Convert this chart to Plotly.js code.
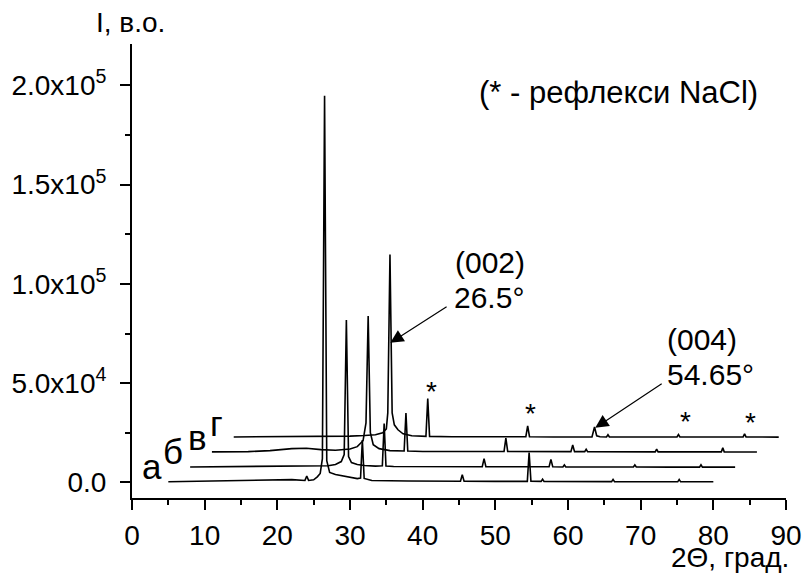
<!DOCTYPE html>
<html>
<head>
<meta charset="utf-8">
<script src="https://cdn.plot.ly/plotly-3.0.1.min.js"></script>
<style>html,body{margin:0;padding:0;background:#fff;}</style>
</head>
<body>
<div id="chart" style="width:806px;height:576px;"></div>
<script>
// Curve а
const xA = [5, 10, 15, 20, 22, 23.8, 24.05, 24.3, 25.0, 25.5, 25.9, 26.2, 26.5, 26.8, 27.2, 28, 29, 30, 31, 31.45, 31.7, 31.95, 33, 38, 45.2, 45.45, 45.7, 50, 54.4, 54.65, 54.9, 56.3, 56.5, 56.7, 61, 66.0, 66.2, 66.4, 70, 75.1, 75.3, 75.5, 80];
const yA = [300, 700, 1100, 1500, 1400, 1000, 3200, 1000, 1300, 2800, 4500, 12000, 194700, 11000, 5000, 4000, 3300, 2600, 1900, 2200, 21300, 2000, 1000, 700, 600, 3900, 600, 500, 500, 15000, 600, 500, 1600, 500, 400, 400, 1500, 400, 300, 300, 1500, 300, 300];
// Curve б
const xB = [8, 14, 20, 25, 27, 28, 28.8, 29.2, 29.5, 29.8, 30.2, 31, 32, 33.5, 34.45, 34.7, 34.95, 36, 42, 48.2, 48.45, 48.7, 53, 57.4, 57.65, 57.9, 59.3, 59.5, 59.7, 64, 69.0, 69.2, 69.4, 74, 78.1, 78.3, 78.5, 83];
const yB = [7800, 7900, 8000, 8100, 8400, 9000, 10500, 14000, 81800, 13000, 10000, 9000, 8500, 8200, 8400, 29700, 8300, 8000, 7900, 7900, 12000, 7900, 7900, 7900, 11600, 7900, 7800, 8800, 7800, 7800, 7800, 8800, 7800, 7700, 7700, 8900, 7700, 7700];
// Curve в
const xC = [11, 16, 19, 22, 24, 26, 28, 30, 31, 31.8, 32.2, 32.5, 32.8, 33.2, 34, 35.5, 37.45, 37.7, 37.95, 40, 51.2, 51.45, 51.7, 56, 60.4, 60.65, 60.9, 62.3, 62.5, 62.7, 67, 72.0, 72.2, 72.4, 77, 81.1, 81.3, 81.5, 86];
const yC = [15400, 15500, 16000, 17000, 17200, 16500, 16200, 16800, 18000, 21000, 30000, 83800, 25000, 19000, 17000, 16000, 15800, 35000, 15800, 15600, 15600, 22300, 15600, 15500, 15500, 18800, 15500, 15500, 16700, 15500, 15500, 15400, 16700, 15400, 15400, 15400, 17400, 15400, 15300];
// Curve г
const xD = [14, 20, 25, 30, 32, 33.5, 34.5, 35.0, 35.2, 35.5, 35.8, 36.1, 36.6, 37.3, 38.5, 40.45, 40.7, 40.95, 44, 54.2, 54.45, 54.7, 58, 63.3, 63.65, 63.95, 64.4, 65.3, 65.5, 65.7, 70, 75.0, 75.2, 75.4, 80, 84.1, 84.3, 84.5, 89];
const yD = [22900, 23000, 23100, 23300, 23600, 24000, 25000, 27000, 35000, 114800, 35000, 29000, 26500, 24500, 23500, 23200, 42200, 23200, 23000, 23000, 28500, 23000, 22900, 22900, 27900, 23500, 23000, 22900, 24000, 22900, 22900, 22900, 24100, 22900, 22900, 22900, 24400, 22900, 22800];

const xTicks = [0, 10, 20, 30, 40, 50, 60, 70, 80, 90];
const yTicks = [0, 50000, 100000, 150000, 200000];
const yTickText = ["0.0", "5.0x10<sup>4</sup>", "1.0x10<sup>5</sup>", "1.5x10<sup>5</sup>", "2.0x10<sup>5</sup>"];
const curveNames = ["а", "б", "в", "г"];

const FONT = "Liberation Sans, Arial, Helvetica, sans-serif";
const line = {color: "#000", width: 1.6};
const series = [[xA, yA], [xB, yB], [xC, yC], [xD, yD]];
const traces = series.map((s, i) => ({
  x: s[0], y: s[1], type: "scatter", mode: "lines", line: line, name: curveNames[i], hoverinfo: "skip"
}));

// pixel -> paper helpers (plot area: x 132..786, y 44..498)
const px = v => (v - 132) / 654;
const py = v => (498 - v) / 454;

function txt(text, x, y, size) {
  return {text: text, xref: "paper", yref: "paper", x: px(x), y: py(y), showarrow: false,
          xanchor: "center", yanchor: "middle", font: {family: FONT, size: size, color: "#000"}};
}

const annotations = [
  txt("(* - рефлекси NaCl)", 618, 93, 31),
  txt("(002)", 490, 262, 30),
  txt("26.5°", 489, 297, 30),
  txt("(004)", 702, 339, 30),
  txt("54.65°", 710, 374, 30),
  txt("I, в.о.", 130, 22, 28),
  txt("2Θ, град.", 730, 557, 28),
  txt(curveNames[0], 152, 466, 35),
  txt(curveNames[1], 173, 451, 35),
  txt(curveNames[2], 197, 437, 35),
  txt(curveNames[3], 216, 423, 35),
  txt("*", 431.7, 391, 28),
  txt("*", 530, 413, 28),
  txt("*", 685.7, 421, 28),
  txt("*", 750.7, 422, 28),
  {text: "", x: 35.55, y: 70300, xref: "x", yref: "y", ax: 43.5, ay: 88900, axref: "x", ayref: "y",
   showarrow: true, arrowhead: 2, arrowsize: 2.2, arrowwidth: 1.2, arrowcolor: "#000", standoff: 0},
  {text: "", x: 63.75, y: 27500, xref: "x", yref: "y", ax: 73.1, ay: 50200, axref: "x", ayref: "y",
   showarrow: true, arrowhead: 2, arrowsize: 2.2, arrowwidth: 1.2, arrowcolor: "#000", standoff: 0}
];

const layout = {
  width: 806, height: 576,
  margin: {l: 132, r: 20, t: 44, b: 78, pad: 0},
  paper_bgcolor: "#fff", plot_bgcolor: "#fff",
  showlegend: false,
  font: {family: FONT, size: 28, color: "#000"},
  xaxis: {
    range: [0, 90], tickmode: "array", tickvals: xTicks, ticktext: xTicks.map(String),
    ticks: "outside", ticklen: 10, tickwidth: 2, tickcolor: "#000", ticklabelstandoff: 1,
    showline: true, linewidth: 2, linecolor: "#000", showgrid: false, zeroline: false,
    tickfont: {family: FONT, size: 28, color: "#000"},
    minor: {ticks: "outside", ticklen: 5, tickwidth: 2, tickcolor: "#000", dtick: 5, tick0: 0, showgrid: false}
  },
  yaxis: {
    range: [-7850, 220800], tickmode: "array", tickvals: yTicks, ticktext: yTickText,
    ticks: "outside", ticklen: 10, tickwidth: 2, tickcolor: "#000", ticklabelstandoff: 8,
    showline: true, linewidth: 2, linecolor: "#000", showgrid: false, zeroline: false,
    tickfont: {family: FONT, size: 28, color: "#000"},
    minor: {ticks: "outside", ticklen: 5, tickwidth: 2, tickcolor: "#000", dtick: 25000, tick0: 0, showgrid: false}
  },
  annotations: annotations
};

Plotly.newPlot("chart", traces, layout, {staticPlot: true, displayModeBar: false});
</script>
</body>
</html>
